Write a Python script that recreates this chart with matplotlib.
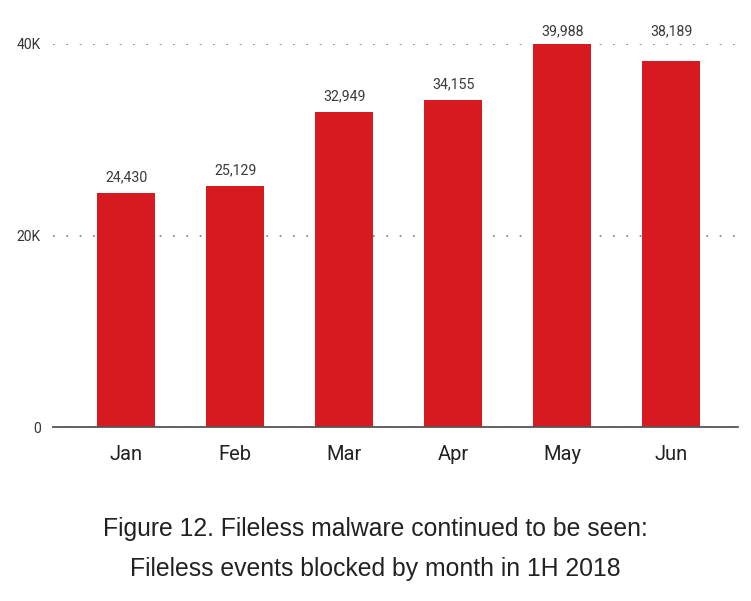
import matplotlib.pyplot as plt
from matplotlib import font_manager

months = ["Jan", "Feb", "Mar", "Apr", "May", "Jun"]
events = [24430, 25129, 32949, 34155, 39988, 38189]
y_ticks = [0, 20000, 40000]
y_tick_labels = ["0", "20K", "40K"]

# narrow font looks closer to the original, fall back if missing
names = [f.name for f in font_manager.fontManager.ttflist]
narrow = "Liberation Sans Narrow" if "Liberation Sans Narrow" in names else "Roboto"

fig = plt.figure(figsize=(7.51, 6.01), dpi=100)
ax = fig.add_axes([0.0706, 0.2895, 0.9124, 0.6373])

x = list(range(len(months)))
ax.bar(x, events, width=0.53, color="#d71920", zorder=3)

for xi, v in zip(x, events):
    y = v + 900
    # keep the label clear of a gridline, like the original does
    for t in y_ticks:
        if t > 0 and y < t + 1600 and v + 4000 > t and v < t:
            y = t + 600
    ax.text(xi, y, f"{v:,}", ha="center", va="bottom",
            fontsize=10.2, color="#3a3a3a", family=narrow, clip_on=False)

ax.set_xlim(-0.67, 5.615)
ax.set_ylim(0, 40000)
ax.set_xticks(x)
ax.set_xticklabels(months, fontsize=14.5, color="#222222", family=narrow)
ax.set_yticks(y_ticks)
ax.set_yticklabels(y_tick_labels, fontsize=10, color="#333333", family=narrow)
ax.tick_params(axis="both", length=0)
ax.tick_params(axis="x", pad=13)
ax.tick_params(axis="y", pad=9)

ax.yaxis.grid(True, linestyle=(0, (1, 7)), color="#777777", linewidth=1.2, zorder=0)
ax.xaxis.grid(False)

for side in ["top", "right", "left"]:
    ax.spines[side].set_visible(False)
ax.spines["bottom"].set_color("#555555")
ax.spines["bottom"].set_linewidth(1.3)
ax.spines["bottom"].set_zorder(4)

fig.text(0.5, 0.0866, "Figure 12. Fileless malware continued to be seen:\nFileless events blocked by month in 1H 2018",
         ha="center", va="center", fontsize=17.8, color="#222222",
         family="Liberation Sans", linespacing=1.86)

fig.savefig("out.png", dpi=100)
